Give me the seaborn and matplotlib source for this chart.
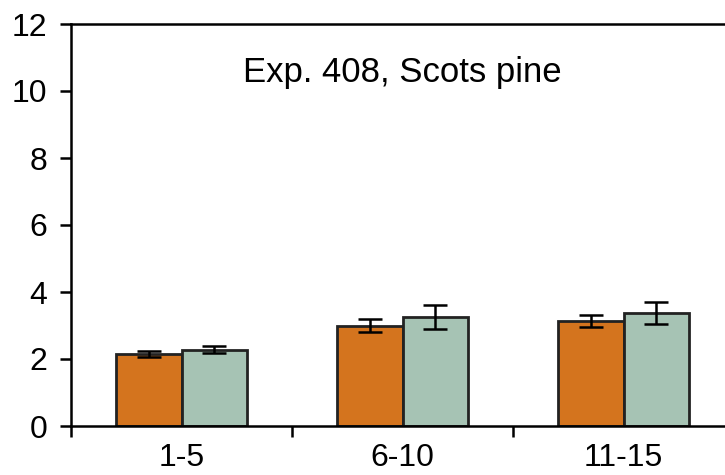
import matplotlib
matplotlib.use("Agg")
import matplotlib.pyplot as plt
import seaborn as sns
import pandas as pd
import numpy as np

categories = ["1-5", "6-10", "11-15"]
series_names = ["A", "B"]
values_a = [2.15, 3.00, 3.13]
errors_a = [0.10, 0.18, 0.17]
values_b = [2.28, 3.25, 3.37]
errors_b = [0.11, 0.36, 0.32]
yticks = [0, 2, 4, 6, 8, 10, 12]
title_text = "Exp. 408, Scots pine"

colors = ["#D4741E", "#A6C3B4"]

df = pd.DataFrame({
    "cat": categories * 2,
    "series": [series_names[0]] * 3 + [series_names[1]] * 3,
    "value": values_a + values_b,
})

sns.set_theme(style="white")
plt.rcParams["font.family"] = ["Liberation Sans", "DejaVu Sans"]
plt.rcParams["text.color"] = "black"
plt.rcParams["xtick.color"] = "black"
plt.rcParams["ytick.color"] = "black"

fig = plt.figure(figsize=(7.25, 4.75), dpi=100)
ax = fig.add_axes([71 / 725, 1 - 426 / 475, (734 - 71) / 725, (426 - 24) / 475])

sns.barplot(data=df, x="cat", y="value", hue="series", palette=colors,
            width=0.59, gap=0, edgecolor="#222222", linewidth=2.0,
            legend=False, ax=ax, errorbar=None, saturation=1)

errs = [errors_a, errors_b]
vals = [values_a, values_b]
bar_conts = list(ax.containers)[:2]
for ci, cont in enumerate(bar_conts):
    xs = [b.get_x() + b.get_width() / 2 for b in cont.patches]
    ax.errorbar(xs, vals[ci], yerr=errs[ci], fmt="none", ecolor="black",
                elinewidth=1.8, capsize=8.5, capthick=1.8, zorder=5)

ax.set_ylim(0, 12)
ax.set_xlim(-0.5, 2.5)
ax.set_yticks(yticks)
ax.set_yticklabels([str(t) for t in yticks])
ax.set_xticks(range(len(categories)))
ax.set_xticklabels(categories)
ax.set_xticks([-0.5, 0.5, 1.5, 2.5], minor=True)
ax.set_xlabel("")
ax.set_ylabel("")

for s in ["left", "top", "bottom"]:
    ax.spines[s].set_visible(True)
    ax.spines[s].set_color("black")
    ax.spines[s].set_linewidth(1.8)
ax.spines["right"].set_visible(False)

ax.tick_params(axis="y", direction="out", length=8, width=1.8, color="black",
               labelcolor="black", labelsize=23, pad=9, left=True)
ax.tick_params(axis="x", which="major", length=0, labelsize=23, pad=12,
               labelcolor="black")
ax.tick_params(axis="x", which="minor", direction="out", length=8, width=1.8,
               color="black", bottom=True)

ax.text(0.5, 0.856, title_text, transform=ax.transAxes, ha="center",
        va="baseline", fontsize=25, color="black")

fig.savefig("out.png", dpi=100)
